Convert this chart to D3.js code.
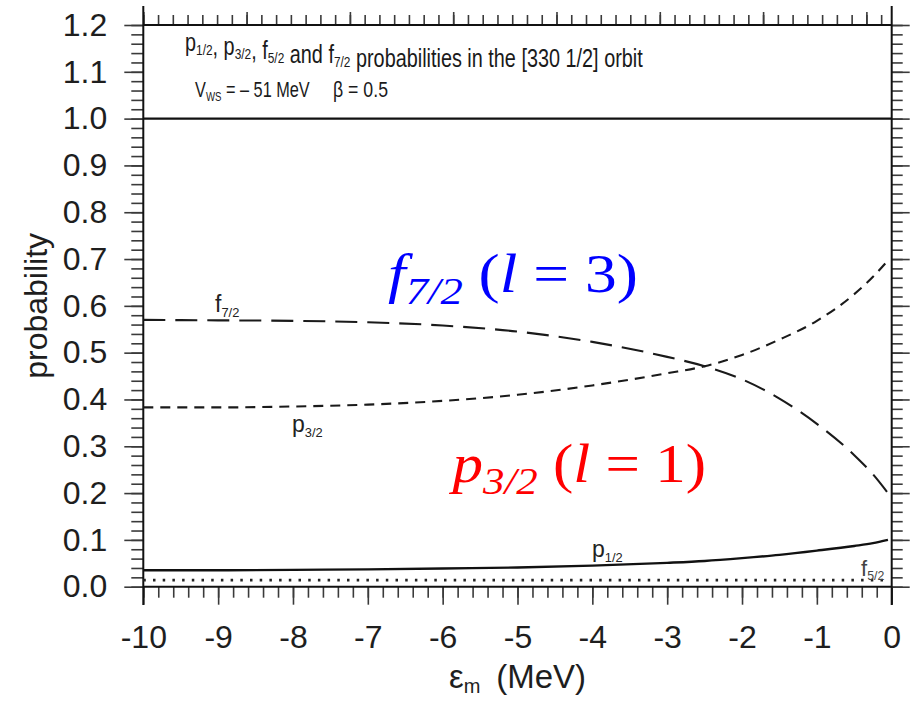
<!DOCTYPE html>
<html>
<head>
<meta charset="utf-8">
<script src="https://cdn.jsdelivr.net/npm/d3@7"></script>
<style>
  html, body { margin: 0; padding: 0; background: #fff; }
  svg { display: block; }
  .sans { font-family: "Liberation Sans", Arial, Helvetica, sans-serif; }
  .serif { font-family: "Liberation Serif", "Times New Roman", serif; }
</style>
</head>
<body>
<svg id="chart" width="913" height="701"></svg>
<script>
// Single-particle energy (MeV) at which the probabilities are sampled
const energy = [-10, -9, -8, -7, -6, -5, -4, -3, -2.5, -2, -1.5, -1, -0.5, -0.25, -0.05];

// Probability of each spherical component in the [330 1/2] Nilsson orbit
const p12 = [0.035, 0.035, 0.036, 0.037, 0.039, 0.041, 0.045, 0.051, 0.055, 0.061, 0.068, 0.077, 0.087, 0.093, 0.100];
const p32 = [0.383, 0.383, 0.385, 0.389, 0.397, 0.410, 0.430, 0.456, 0.471, 0.495, 0.528, 0.568, 0.625, 0.662, 0.697];
const f52 = [0.014, 0.014, 0.014, 0.014, 0.014, 0.014, 0.014, 0.014, 0.014, 0.014, 0.014, 0.014, 0.014, 0.014, 0.014];
const f72 = [0.570, 0.569, 0.568, 0.565, 0.558, 0.545, 0.523, 0.491, 0.471, 0.443, 0.402, 0.348, 0.281, 0.240, 0.200];

// Axis ticks
const xTicks = [-10, -9, -8, -7, -6, -5, -4, -3, -2, -1, 0];
const yTicks = [0, 0.1, 0.2, 0.3, 0.4, 0.5, 0.6, 0.7, 0.8, 0.9, 1.0, 1.1, 1.2];

const svg = d3.select("#chart");
const plotLeft = 143.3, plotRight = 891.7, plotTop = 25, plotBottom = 586.7;

const x = d3.scaleLinear().domain([-10, 0]).range([plotLeft, plotRight]);
const y = d3.scaleLinear().domain([0, 1.2]).range([plotBottom, plotTop]);
// scale of the neighbouring panel whose axis shares the top frame edge
const xTop = d3.scaleLinear().domain([0, 7.245]).range([plotLeft, plotRight]);

const tickColor = "#3a3a3a";
function styleAxis(g) {
  g.select(".domain").remove();
  g.selectAll(".tick line").attr("stroke", tickColor).attr("stroke-width", 1.6);
}

// ---- minor ticks ----
const yMinor = d3.range(0, 1.2001, 0.02);
const xMinor = d3.range(-10, 0.0001, 0.2);
const topMinor = d3.range(0, 7.245, 1 / 7);

svg.append("g").attr("transform", `translate(${plotLeft},0)`)
  .call(d3.axisLeft(y).tickValues(yMinor).tickSize(12).tickFormat(""))
  .call(styleAxis);
svg.append("g").attr("transform", `translate(${plotRight},0)`)
  .call(d3.axisRight(y).tickValues(yMinor).tickSize(11).tickFormat(""))
  .call(styleAxis);
svg.append("g").attr("transform", `translate(0,${plotBottom})`)
  .call(d3.axisBottom(x).tickValues(xMinor).tickSize(11).tickFormat(""))
  .call(styleAxis);
svg.append("g").attr("transform", `translate(0,${plotTop})`)
  .call(d3.axisTop(xTop).tickValues(topMinor).tickSize(10).tickFormat(""))
  .call(styleAxis);

// ---- major ticks with labels ----
const yAxis = svg.append("g").attr("transform", `translate(${plotLeft},0)`)
  .call(d3.axisLeft(y).tickValues(yTicks).tickSize(19).tickPadding(17).tickFormat(d => d.toFixed(1)))
  .call(styleAxis);
svg.append("g").attr("transform", `translate(${plotRight},0)`)
  .call(d3.axisRight(y).tickValues(yTicks).tickSize(18).tickFormat(""))
  .call(styleAxis);
const xAxis = svg.append("g").attr("transform", `translate(0,${plotBottom})`)
  .call(d3.axisBottom(x).tickValues(xTicks).tickSize(18).tickPadding(21).tickFormat(d => String(d)))
  .call(styleAxis);
svg.append("g").attr("transform", `translate(0,${plotTop})`)
  .call(d3.axisTop(xTop).tickValues(d3.range(0, 7.245, 1)).tickSize(13).tickFormat(""))
  .call(styleAxis);

[yAxis, xAxis].forEach(a => a.selectAll("text")
  .attr("class", "sans").attr("font-size", 32).attr("fill", "#1e1e1e"));

// ---- frame ----
const frame = svg.append("g").attr("stroke", "#111").attr("fill", "none");
frame.append("line").attr("x1", plotLeft).attr("x2", plotLeft).attr("y1", 6).attr("y2", 605).attr("stroke-width", 2);
frame.append("line").attr("x1", plotRight).attr("x2", plotRight).attr("y1", 6).attr("y2", 605).attr("stroke-width", 2);
frame.append("line").attr("x1", plotLeft).attr("x2", plotRight).attr("y1", plotTop).attr("y2", plotTop).attr("stroke-width", 2);
frame.append("line").attr("x1", plotLeft).attr("x2", plotRight).attr("y1", plotBottom).attr("y2", plotBottom).attr("stroke-width", 2);
// lower edge of the caption box at probability 1.0
frame.append("line").attr("x1", plotLeft).attr("x2", plotRight).attr("y1", y(1.0)).attr("y2", y(1.0)).attr("stroke-width", 2.2);

// ---- curves ----
const series = [
  { name: "f52", values: f52, dash: "2.5 7.2", width: 2.8, color: "#222" },
  { name: "p12", values: p12, dash: null, width: 2.4, color: "#111" },
  { name: "p32", values: p32, dash: "10 7", width: 2.1, color: "#1a1a1a" },
  { name: "f72", values: f72, dash: "22 10", width: 2.1, color: "#1a1a1a" }
];
const line = d3.line().x((d, i) => x(energy[i])).y(d => y(d)).curve(d3.curveMonotoneX);
svg.append("g").selectAll("path").data(series).join("path")
  .attr("d", d => line(d.values))
  .attr("fill", "none")
  .attr("stroke", d => d.color)
  .attr("stroke-width", d => d.width)
  .attr("stroke-dasharray", d => d.dash);

// helper: a label made of a main symbol and a subscript
function subLabel(g, xPos, yPos, main, sub, size, color) {
  const t = g.append("text").attr("class", "sans").attr("x", xPos).attr("y", yPos)
    .attr("font-size", size).attr("fill", color || "#222");
  t.append("tspan").text(main);
  t.append("tspan").attr("font-size", size * 0.56).attr("dy", size * 0.2).text(sub);
  return t;
}

// ---- curve labels ----
const labels = svg.append("g");
subLabel(labels, 215, 312, "f", "7/2", 23);
subLabel(labels, 292, 432, "p", "3/2", 23);
subLabel(labels, 592, 557, "p", "1/2", 23);
subLabel(labels, 861, 576, "f", "5/2", 22, "#444");

// fit a text element horizontally to a given width, keeping its left edge
function fitWidth(t, target) {
  const b = t.node().getBBox();
  const k = target / b.width;
  t.attr("transform", `translate(${b.x},0) scale(${k},1) translate(${-b.x},0)`);
}

// ---- caption box ----
const cap = svg.append("g");
const title = cap.append("text").attr("class", "sans").attr("x", 185).attr("y", 51)
  .attr("font-size", 25).attr("fill", "#1a1a1a");
const parts = [["p", "1/2"], [", p", "3/2"], [", f", "5/2"], [" and f", "7/2"]];
parts.forEach(([m, s]) => {
  title.append("tspan").text(m);
  title.append("tspan").attr("font-size", 15).attr("dy", 4).text(s);
  title.append("tspan").attr("dy", -4).text("");
});
title.append("tspan").text(" probabilities in the [330 1/2] orbit");
fitWidth(title, 458);

const vws = cap.append("text").attr("class", "sans").attr("x", 195).attr("y", 97)
  .attr("font-size", 22).attr("fill", "#1a1a1a");
vws.append("tspan").text("V");
vws.append("tspan").attr("font-size", 13).attr("dy", 4).text("WS");
vws.append("tspan").attr("dy", -4).text(" = \u2013 51 MeV");
fitWidth(vws, 115);
const beta = cap.append("text").attr("class", "sans").attr("x", 333).attr("y", 97)
  .attr("font-size", 22).attr("fill", "#1a1a1a").text("\u03b2 = 0.5");
fitWidth(beta, 55);

// ---- axis titles ----
svg.append("text").attr("class", "sans")
  .attr("transform", `translate(47,${(y(0) + y(1.2)) / 2}) rotate(-90)`)
  .attr("text-anchor", "middle").attr("font-size", 32).attr("fill", "#1e1e1e")
  .text("probability");

const xt = svg.append("text").attr("class", "sans")
  .attr("x", (plotLeft + plotRight) / 2).attr("y", 688).attr("text-anchor", "middle")
  .attr("font-size", 33).attr("fill", "#1e1e1e");
xt.append("tspan").text("\u03b5");
xt.append("tspan").attr("font-size", 20).attr("dy", 5).text("m");
xt.append("tspan").attr("dy", -5).text("\u2009 (MeV)");

// ---- component annotations ----
function mathLabel(xPos, yPos, main, sub, ell, rhs, color, width) {
  const t = svg.append("text").attr("class", "serif").attr("x", xPos).attr("y", yPos)
    .attr("font-size", 54).attr("fill", color);
  t.append("tspan").attr("font-style", "italic").text(main);
  t.append("tspan").attr("font-style", "italic").attr("font-size", 38).attr("dy", 12).text(sub);
  t.append("tspan").attr("dy", -12).text(" (");
  t.append("tspan").attr("font-style", "italic").text(ell);
  t.append("tspan").text(" = " + rhs + ")");
  fitWidth(t, width);
}
mathLabel(388, 292, "f", "7/2", "l", "3", "#0000ff", 250);
mathLabel(452, 482, "p", "3/2", "l", "1", "#ff0000", 258);
</script>
</body>
</html>
